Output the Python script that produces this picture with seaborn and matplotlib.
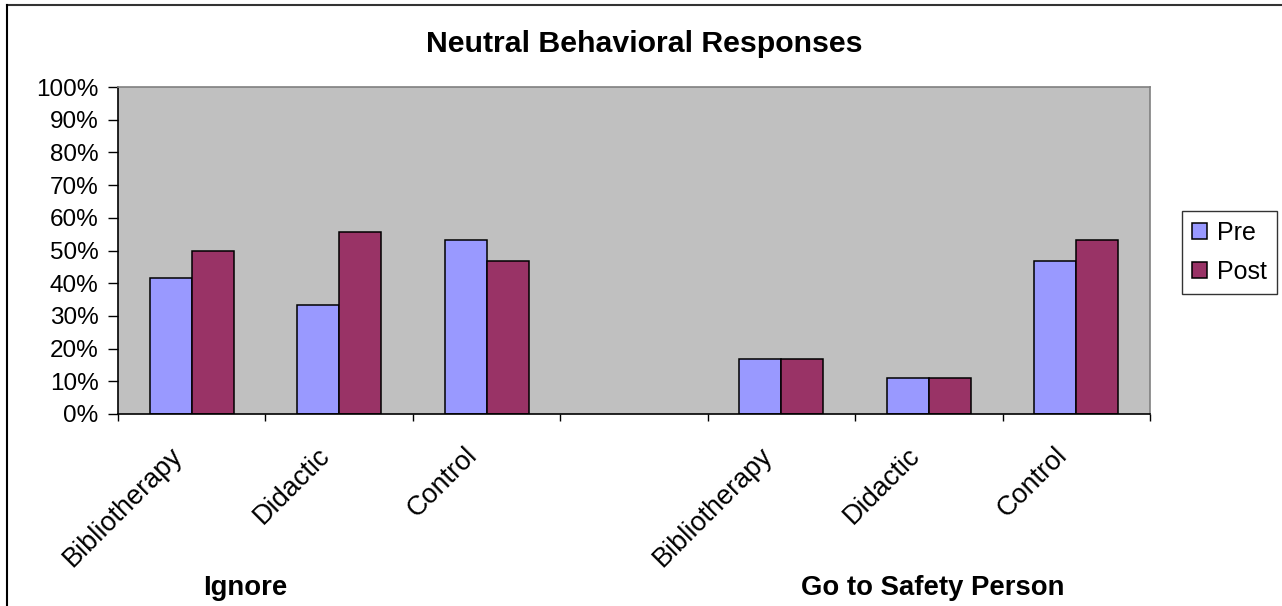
import matplotlib
matplotlib.use("Agg")
import matplotlib.pyplot as plt
import matplotlib.ticker as mticker
import matplotlib.transforms as mtransforms
from matplotlib.lines import Line2D
import seaborn as sns
import pandas as pd

# ---- data ----
groups = ["Ignore", "Go to Safety Person"]
subcats = ["Bibliotherapy", "Didactic", "Control"]
pre_ignore = [41.7, 33.3, 53.3]
post_ignore = [50.0, 55.6, 46.7]
pre_safety = [16.7, 11.1, 46.7]
post_safety = [16.7, 11.1, 53.3]
series = ["Pre", "Post"]
yticks = [0, 10, 20, 30, 40, 50, 60, 70, 80, 90, 100]

rows = []
for g, pre, post in [(groups[0], pre_ignore, post_ignore), (groups[1], pre_safety, post_safety)]:
    for s, vp, vq in zip(subcats, pre, post):
        rows.append({"slot": f"{g}|{s}", "series": "Pre", "value": vp})
        rows.append({"slot": f"{g}|{s}", "series": "Post", "value": vq})
df = pd.DataFrame(rows)
order = [f"{groups[0]}|{s}" for s in subcats] + ["gap"] + [f"{groups[1]}|{s}" for s in subcats]
tick_labels = subcats + [""] + subcats

plt.rcParams["font.family"] = ["Liberation Sans", "DejaVu Sans"]

W, H = 1282, 606
fig = plt.figure(figsize=(W / 100, H / 100), dpi=100)
L, R, T, B = 118, 1150, 87, 414
ax = fig.add_axes([L / W, 1 - B / H, (R - L) / W, (B - T) / H])
ax.set_facecolor("#C0C0C0")

sns.barplot(data=df, x="slot", y="value", hue="series", order=order,
            hue_order=series, palette={"Pre": "#9999FF", "Post": "#993366"},
            width=0.57, gap=0, edgecolor="black", linewidth=1.1,
            saturation=1, ax=ax, legend=True)

ax.set_xlim(-0.5, 6.5)
ax.set_ylim(0, 100)
ax.set_yticks(yticks)
ax.yaxis.set_major_formatter(mticker.FuncFormatter(lambda v, p: f"{int(v)}%"))
ax.tick_params(axis="y", labelsize=17.5, length=7, width=1, color="black", pad=7)
ax.set_xticks(range(len(order)))
ax.set_xticklabels(tick_labels, rotation=45, ha="right", va="center",
                   rotation_mode="anchor", fontsize=19.5)
ax.tick_params(axis="x", which="major", length=0, pad=27)
shift = mtransforms.ScaledTranslation(-13 / 100, 0, fig.dpi_scale_trans)
for lab in ax.get_xticklabels():
    lab.set_transform(lab.get_transform() + shift)
ax.set_xticks([i - 0.5 for i in range(len(order) + 1)], minor=True)
ax.tick_params(axis="x", which="minor", length=5, width=1, color="black")
ax.set_xlabel("")
ax.set_ylabel("")
ax.grid(False)

for side in ["left", "bottom"]:
    ax.spines[side].set_color("black")
    ax.spines[side].set_linewidth(1.2)
for side in ["top", "right"]:
    ax.spines[side].set_color("#808080")
    ax.spines[side].set_linewidth(1.2)

# legend
handles, labels = ax.get_legend_handles_labels()
ax.get_legend().remove()
leg = fig.legend(handles, labels, loc="upper left",
                 bbox_to_anchor=(1182 / W, 1 - 211 / H),
                 fontsize=18, frameon=True, fancybox=False,
                 handlelength=0.6, handleheight=0.6, handletextpad=0.4,
                 borderpad=0.4, labelspacing=0.6, borderaxespad=0)
leg.get_frame().set_edgecolor("black")
leg.get_frame().set_linewidth(1.0)

# titles
fig.text(644 / W, 1 - 44 / H, "Neutral Behavioral Responses", ha="center", va="center",
         fontsize=21.8, fontweight="bold")
fig.text(245 / W, 1 - 588 / H, groups[0], ha="center", va="center",
         fontsize=19.8, fontweight="bold")
fig.text(933 / W, 1 - 588 / H, groups[1], ha="center", va="center",
         fontsize=19.8, fontweight="bold")

# outer frame (top and left edges)
fig.add_artist(Line2D([7 / W, 1], [1 - 5 / H, 1 - 5 / H], transform=fig.transFigure,
                      color="#333333", linewidth=1.5))
fig.add_artist(Line2D([7 / W, 7 / W], [0, 1 - 5 / H], transform=fig.transFigure,
                      color="black", linewidth=1.5))

fig.savefig("out.png", dpi=100, facecolor="white")
